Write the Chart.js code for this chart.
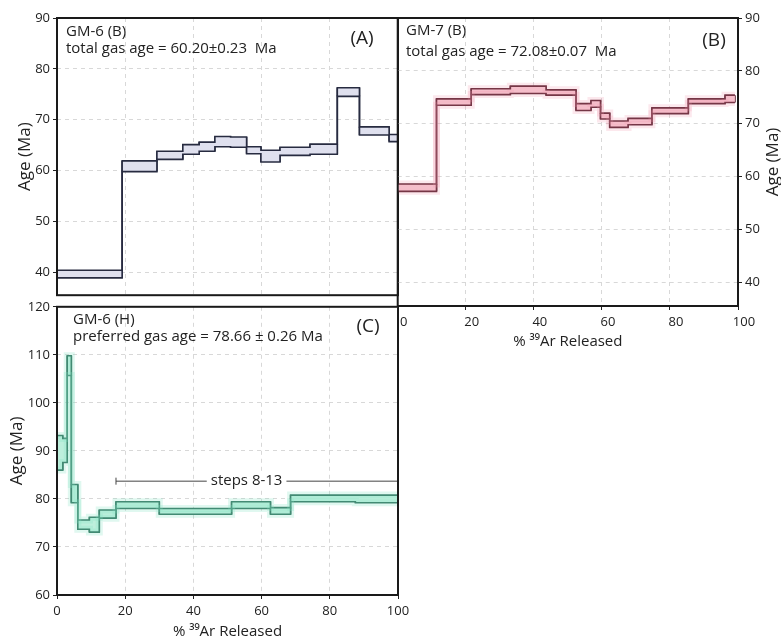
<!DOCTYPE html>
<html>
<head>
<meta charset="utf-8">
<script src="https://cdn.jsdelivr.net/npm/chart.js@4.4.0/dist/chart.umd.min.js"></script>
<style>
  html, body { margin: 0; padding: 0; background: #fff; }
  #wrap { position: relative; width: 781px; height: 639px; overflow: hidden; }
  #wrap canvas { position: absolute; }
  #chartA { left: 0; top: 0; }
  #chartB { left: 390px; top: 0; }
  #chartC { left: 0; top: 296px; }
</style>
</head>
<body>
<div id="wrap">
  <canvas id="chartA" width="400" height="306"></canvas>
  <canvas id="chartC" width="416" height="345"></canvas>
  <canvas id="chartB" width="391" height="354"></canvas>
</div>
<script>
// Axis ticks
const xTicks = [0, 20, 40, 60, 80, 100];
const yTicksAB = [40, 50, 60, 70, 80, 90];
const yTicksC = [60, 70, 80, 90, 100, 110, 120];

// GM-6 (B): cumulative % 39Ar step edges, step ages (Ma) and errors
const stepsA = [0, 19.1, 29.3, 36.9, 41.7, 46.3, 50.9, 55.6, 59.8, 65.4, 74.2, 82.2, 88.7, 97.4, 100];
const agesA = [39.65, 60.85, 63.0, 64.15, 64.7, 65.7, 65.6, 64.0, 62.85, 63.8, 64.2, 75.45, 67.8, 66.4];
const errA = [0.75, 1.05, 0.8, 0.95, 0.9, 1.0, 1.0, 0.7, 1.15, 0.8, 1.0, 0.85, 0.8, 0.7];

// GM-7 (B)
const stepsB = [0, 11.4, 21.6, 33.1, 43.6, 52.4, 56.8, 59.6, 62.3, 67.7, 74.7, 85.4, 96.2, 99.1];
const agesB = [57.9, 74.1, 76.05, 76.4, 75.9, 73.15, 73.75, 71.45, 69.9, 70.4, 72.45, 74.25, 74.7];
const errB = [0.7, 0.6, 0.55, 0.7, 0.5, 0.65, 0.65, 0.55, 0.6, 0.6, 0.55, 0.45, 0.7];

// GM-6 (H)
const stepsC = [0, 1.7, 3.0, 4.2, 6.1, 9.5, 12.4, 17.3, 30.0, 51.2, 62.6, 68.5, 87.5, 100];
const agesC = [89.6, 90.1, 107.75, 81.1, 74.65, 74.65, 76.85, 78.7, 77.4, 78.7, 77.5, 80.1, 80.0];
const errC = [3.6, 2.5, 2.05, 1.9, 0.95, 1.55, 0.85, 0.7, 0.6, 0.7, 0.7, 0.7, 0.8];
const plateauFirstStep = 8;
const plateauMarkAge = 83.7;

const FONT = "'Open Sans', 'Liberation Sans', sans-serif";
const INK = '#222';
const GRID = '#d8d8d8';

Chart.defaults.font.family = FONT;
Chart.defaults.font.size = 13;
Chart.defaults.color = INK;

// text drawn on each canvas (canvas pixel coords, or data coords via `at`)
const notes = {
  chartA: [
    { text: 'GM-6 (B)', x: 66, y: 32 },
    { text: 'total gas age = 60.20±0.23  Ma', x: 66, y: 49 },
    { text: '(A)', x: 362, y: 39, size: 19, align: 'center' }
  ],
  chartB: [
    { text: 'GM-7 (B)', x: 16, y: 31 },
    { text: 'total gas age = 72.08±0.07  Ma', x: 16, y: 52 },
    { text: '(B)', x: 324, y: 41, size: 19, align: 'center' },
    { text: 'Age (Ma)', x: 383, y: 162, size: 17, align: 'center', turn: true }
  ],
  chartC: [
    { text: 'GM-6 (H)', x: 73, y: 24 },
    { text: 'preferred gas age = 78.66 ± 0.26 Ma', x: 73, y: 41 },
    { text: '(C)', x: 368, y: 31, size: 19, align: 'center' },
    { text: 'steps 8-13', at: [55.6, plateauMarkAge], align: 'center', knockout: true }
  ]
};

// upper (sign 1) or lower (sign -1) outline of the step boxes
function outline(edges, ages, errs, sign) {
  const pts = [];
  ages.forEach((a, i) => {
    const y = a + sign * errs[i];
    pts.push({ x: edges[i], y }, { x: edges[i + 1], y });
  });
  return pts;
}

// vertical sides of every box, broken by gaps
function sides(edges, ages, errs) {
  const pts = [];
  ages.forEach((a, i) => {
    [edges[i], edges[i + 1]].forEach(x => {
      pts.push({ x, y: a - errs[i] }, { x, y: a + errs[i] }, { x, y: null });
    });
  });
  return pts;
}

function spectrum(edges, ages, errs, line, band, glow) {
  const common = { borderColor: line, borderWidth: 1.6, pointRadius: 0, tension: 0, spanGaps: false };
  const sets = [];
  if (glow) {
    // soft coloured halo under the outlines
    const halo = { ...common, borderColor: glow, borderWidth: 7, fill: false };
    sets.push({ ...halo, data: outline(edges, ages, errs, 1) }, { ...halo, data: outline(edges, ages, errs, -1) });
  }
  sets.push(
    { ...common, data: outline(edges, ages, errs, 1), fill: false },
    { ...common, data: outline(edges, ages, errs, -1), fill: '-1', backgroundColor: band },
    { ...common, data: sides(edges, ages, errs), fill: false }
  );
  return sets;
}

const framePlugin = {
  id: 'frame',
  afterDatasetsDraw(chart) {
    const { ctx, chartArea: a } = chart;
    ctx.save();
    ctx.strokeStyle = '#1a1a1a';
    ctx.lineWidth = 2;
    ctx.strokeRect(a.left, a.top, a.right - a.left, a.bottom - a.top);
    ctx.restore();
  }
};

const notesPlugin = {
  id: 'notes',
  afterDraw(chart) {
    const ctx = chart.ctx;
    (notes[chart.canvas.id] || []).forEach(n => {
      let x = n.x, y = n.y;
      if (n.at) {
        x = chart.scales.x.getPixelForValue(n.at[0]);
        y = chart.scales.y.getPixelForValue(n.at[1]);
      }
      ctx.save();
      ctx.font = `${n.size || 15}px ${FONT}`;
      ctx.textAlign = n.align || 'left';
      ctx.textBaseline = 'middle';
      ctx.translate(x, y);
      if (n.turn) ctx.rotate(-Math.PI / 2);
      if (n.knockout) {
        const w = ctx.measureText(n.text).width;
        ctx.fillStyle = '#fff';
        ctx.fillRect(-w / 2 - 4, -8, w + 8, 16);
      }
      ctx.fillStyle = INK;
      ctx.fillText(n.text, 0, 0);
      ctx.restore();
    });
  }
};

function options(o) {
  return {
    responsive: false,
    animation: false,
    events: [],
    layout: { padding: o.padding },
    plugins: {
      legend: { display: false },
      tooltip: { enabled: false }
    },
    scales: {
      x: {
        type: 'linear', min: 0, max: 100,
        afterBuildTicks: s => { s.ticks = xTicks.map(v => ({ value: v })); },
        afterFit: s => { s.height = o.xHeight; },
        grid: { color: GRID, drawTicks: o.xLabels, tickLength: 4, tickColor: INK, tickBorderDash: [] },
        border: { display: false, dash: [4, 4] },
        ticks: { display: o.xLabels, padding: 4, labelOffset: o.xLabelOffset || 0, maxRotation: 0, color: INK },
        title: {
          display: o.xLabels, text: '% ³⁹Ar Released', color: INK,
          font: { size: 15 }, padding: { top: 2, bottom: o.xTitlePad || 0 }
        }
      },
      y: {
        type: 'linear', position: o.yPos, min: o.yMin, max: o.yMax,
        afterBuildTicks: s => { s.ticks = o.yTicks.map(v => ({ value: v })); },
        afterFit: s => { s.width = o.yWidth; },
        grid: { color: GRID, tickLength: 4, tickColor: INK, tickBorderDash: [] },
        border: { display: false, dash: [4, 4] },
        ticks: { padding: 3, color: INK },
        title: {
          display: o.yTitle, text: 'Age (Ma)', color: INK,
          font: { size: 17 }, padding: { top: o.yTitlePad || 0, bottom: 0 }
        }
      }
    }
  };
}

// (A) GM-6 (B)
new Chart(document.getElementById('chartA'), {
  type: 'line',
  data: { datasets: spectrum(stepsA, agesA, errA, '#272b40', '#dfe0ee') },
  options: options({
    padding: { top: 18, right: 2, bottom: 0, left: 0 },
    xLabels: false, xHeight: 1,
    yPos: 'left', yMin: 35.5, yMax: 90, yTicks: yTicksAB, yWidth: 57, yTitle: true, yTitlePad: 15
  }),
  plugins: [framePlugin, notesPlugin]
});

// (B) GM-7 (B)
new Chart(document.getElementById('chartB'), {
  type: 'line',
  data: { datasets: spectrum(stepsB, agesB, errB, '#531b2a', '#f6c8d2', 'rgba(242, 150, 172, 0.22)') },
  options: options({
    padding: { top: 18, right: 0, bottom: 0, left: 7 },
    xLabels: true, xHeight: 48, xLabelOffset: 6, xTitlePad: 3,
    yPos: 'right', yMin: 35.5, yMax: 90, yTicks: yTicksAB, yWidth: 43, yTitle: false
  }),
  plugins: [framePlugin, notesPlugin]
});

// (C) GM-6 (H), plateau steps 8-13 marked
const plateauMark = {
  data: [
    { x: stepsC[plateauFirstStep - 1], y: plateauMarkAge },
    { x: stepsC[stepsC.length - 1], y: plateauMarkAge }
  ],
  borderColor: '#444', borderWidth: 1, fill: false,
  pointStyle: 'line', pointRotation: 90, pointRadius: 3.5,
  pointBorderColor: '#444', pointBorderWidth: 1
};

new Chart(document.getElementById('chartC'), {
  type: 'line',
  data: { datasets: [...spectrum(stepsC, agesC, errC, '#2c6d59', '#bdefdc', 'rgba(130, 228, 195, 0.25)'), plateauMark] },
  options: options({
    padding: { top: 10, right: 18, bottom: 0, left: 0 },
    xLabels: true, xHeight: 46, xTitlePad: 0,
    yPos: 'left', yMin: 60, yMax: 120, yTicks: yTicksC, yWidth: 57, yTitle: true, yTitlePad: 7
  }),
  plugins: [framePlugin, notesPlugin]
});
</script>
</body>
</html>
